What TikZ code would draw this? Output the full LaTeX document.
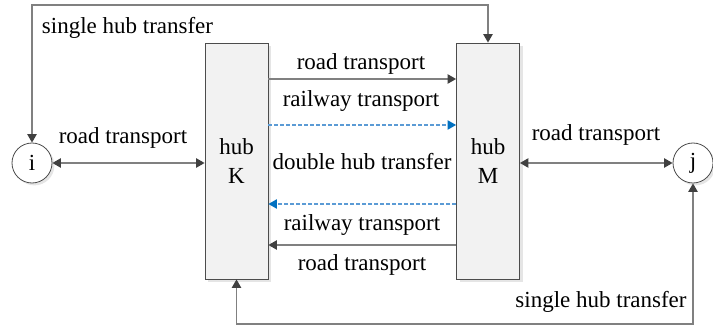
\documentclass[tikz,border=0pt]{standalone}
\usepackage{fontspec}
\setmainfont{Liberation Serif}
\usetikzlibrary{arrows.meta,positioning,shadows}
\definecolor{linegray}{HTML}{808080}
\definecolor{tipgray}{HTML}{404040}
\definecolor{railblue}{HTML}{5B9BD5}
\definecolor{tipblue}{HTML}{0070C0}
\tikzset{
  hubbox/.style={draw=black!70, fill=black!5, minimum width=31.5pt, minimum height=118pt, align=center, font=\fontsize{11.5}{14.5}\selectfont, drop shadow={shadow xshift=1.5pt, shadow yshift=-1.5pt, opacity=0.2}},
  citynode/.style={draw=black!70, fill=white, circle, minimum size=20pt, inner sep=0pt, drop shadow={shadow xshift=1.2pt, shadow yshift=-1.2pt, opacity=0.2}},
  roadline/.style={draw=linegray, line width=0.75pt, -{Triangle[length=4.2pt, width=4.6pt, color=tipgray]}},
  biline/.style={draw=linegray, line width=0.75pt, {Triangle[length=4.2pt, width=4.6pt, color=tipgray]}-{Triangle[length=4.2pt, width=4.6pt, color=tipgray]}},
  railline/.style={draw=railblue, line width=0.6pt, dash pattern=on 2pt off 1pt, -{Triangle[length=4.2pt, width=4.6pt, color=tipblue]}},
}
\begin{document}
\begin{tikzpicture}[x=0.5pt, y=-0.5pt, font=\fontsize{11.5}{14}\selectfont]
  \fill[white] (0,0) rectangle (713,326);
  \useasboundingbox (0,0) rectangle (713,326);
  \node[hubbox] (K) at (236.5,161) {hub\\K};
  \node[hubbox] (M) at (488,161) {hub\\M};
  \node[citynode] (i) at (32,163) {i};
  \node[citynode] (j) at (693,163) {j};
  \coordinate (top) at (0,5);
  \coordinate (bot) at (0,324);
  % single hub transfer
  \draw[biline] (i.north) -- (i.north |- top) -- (M.north |- top) -- (M.north);
  \draw[biline] (K.south) -- (K.south |- bot) -- (j.south |- bot) -- (j.south);
  % road transport to and from the hubs
  \draw[biline] (i.east) -- (i.east -| K.west);
  \draw[biline] (M.east |- j.west) -- (j.west);
  % double hub transfer
  \draw[roadline] (K.east |- 0,79) -- (M.west |- 0,79);
  \draw[railline] (K.east |- 0,125) -- (M.west |- 0,125);
  \draw[railline] (M.west |- 0,204) -- (K.east |- 0,204);
  \draw[roadline] (M.west |- 0,245) -- (K.east |- 0,245);
  % labels
  \node (lblSingleTop) at (127.5,28) {single hub transfer};
  \node (lblSingleBot) at (601,302) {single hub transfer};
  \node (lblRoadI) at (123,138) {road transport};
  \node (lblRoadJ) at (596,135) {road transport};
  \node (lblRoadKM) at (361,64) {road transport};
  \node (lblRailKM) at (361,101) {railway transport};
  \node (lblDouble) at (362,162) {double hub transfer};
  \node (lblRailMK) at (362,225) {railway transport};
  \node (lblRoadMK) at (362,265) {road transport};
\end{tikzpicture}
\end{document}
